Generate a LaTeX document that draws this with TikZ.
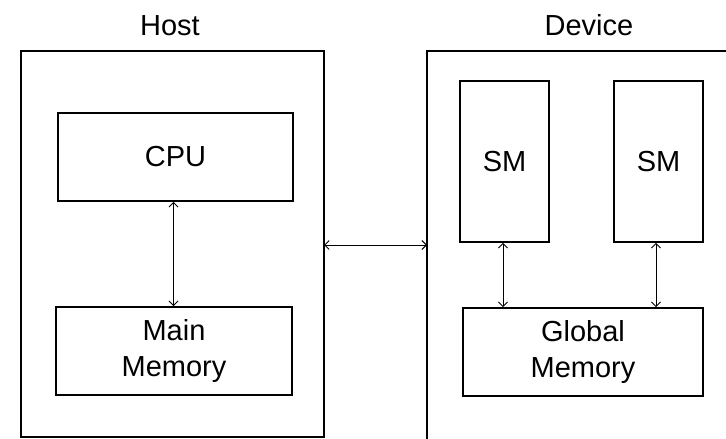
\documentclass[tikz,border=0pt]{standalone}
\usepackage{fontspec}
\setmainfont{Liberation Sans}
\usetikzlibrary{arrows.meta}
\begin{document}
\begin{tikzpicture}[x=1pt,y=-1pt,
  unit/.style={draw=black,line width=1.8pt,inner sep=0pt,align=center,
    font=\fontsize{29}{36}\selectfont},
  frame/.style={draw=black,line width=1.8pt},
  title/.style={font=\fontsize{29}{34}\selectfont,anchor=base},
  link/.style={line width=0.9pt,{Straight Barb[length=4.5pt,width=9pt]}-{Straight Barb[length=4.5pt,width=9pt]}}]
  \useasboundingbox (0,0) rectangle (726,439);
  \clip (0,0) rectangle (726,439);

  % titles
  \node[title] (hostlbl) at (170,35) {Host};
  \node[title] (devlbl) at (589,35) {Device};

  % host side
  \draw[frame] (21,51) rectangle (324,437);
  \node[unit,minimum width=235pt,minimum height=88pt] (cpu) at (175.5,157) {CPU};
  \node[unit,minimum width=236pt,minimum height=88pt] (main) at (174,351) {Main\\Memory};
  \coordinate (host) at (324,245);

  % device side (runs past the right and lower edges)
  \draw[frame] (427,51) rectangle (760,470);
  \coordinate (dev) at (427,245);
  \node[unit,minimum width=89pt,minimum height=161pt] (sma) at (504.5,161.5) {SM};
  \node[unit,minimum width=89pt,minimum height=161pt] (smb) at (658.5,161.5) {SM};
  \node[unit,minimum width=240pt,minimum height=88pt] (gm) at (583,352) {Global\\Memory};

  % connectors
  \draw[link] ([xshift=-2pt]cpu.south) -- ([xshift=-2pt]cpu.south |- main.north);
  \draw[link] (host) -- (dev);
  \draw[link] ([xshift=-1.5pt]sma.south) -- ([xshift=-1.5pt]sma.south |- gm.north);
  \draw[link] ([xshift=-2.5pt]smb.south) -- ([xshift=-2.5pt]smb.south |- gm.north);
\end{tikzpicture}
\end{document}
